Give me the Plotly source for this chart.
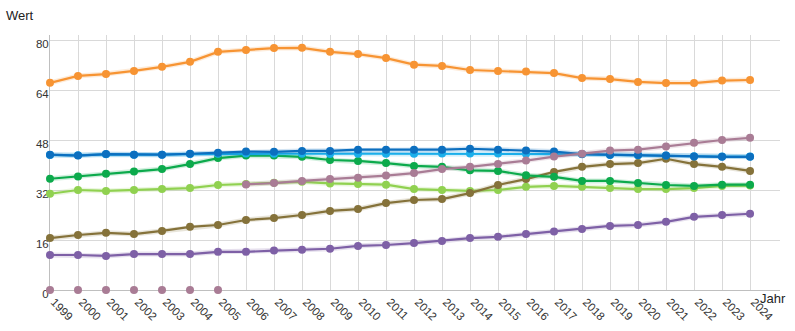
import plotly.graph_objects as go

years = list(range(1999, 2025))

orange = [66.3, 68.5, 69.1, 70.1, 71.4, 73.0, 76.2, 76.8, 77.4, 77.5, 76.2, 75.5, 74.2,
          72.1, 71.7, 70.4, 70.1, 69.9, 69.4, 67.8, 67.5, 66.6, 66.2, 66.2, 67.0, 67.2]
dark_blue = [43.3, 43.0, 43.5, 43.3, 43.3, 43.6, 43.9, 44.3, 44.2, 44.5, 44.5, 44.9, 44.9,
             44.9, 44.9, 45.2, 44.9, 44.6, 44.3, 43.5, 43.3, 43.2, 43.0, 42.7, 42.6, 42.6]
light_blue = [43.2, 43.1, 43.4, 43.3, 43.3, 43.5, 43.6, 43.7, 43.6, 43.6, 43.5, 43.6, 43.6,
              43.6, 43.7, 43.7, 43.7, 43.6, 43.5, 43.4, 43.2, 43.1, 43.0, 42.8, 42.7, 42.7]
dark_green = [35.6, 36.3, 37.2, 37.9, 38.7, 40.3, 42.2, 43.0, 43.0, 42.6, 41.6, 41.3, 40.6,
              39.7, 39.4, 38.3, 38.1, 36.7, 36.2, 34.9, 34.9, 34.2, 33.6, 33.3, 33.7, 33.7]
light_green = [30.8, 32.0, 31.7, 32.0, 32.3, 32.6, 33.6, 33.9, 34.3, 34.6, 34.1, 33.9, 33.7,
               32.3, 32.0, 31.7, 32.0, 33.0, 33.3, 33.0, 32.6, 32.3, 32.3, 32.6, 33.3, 33.4]
mauve = [0, 0, 0, 0, 0, 0, 0, 33.8, 34.2, 34.9, 35.5, 35.9, 36.6,
         37.4, 38.7, 39.4, 40.3, 41.4, 42.7, 43.6, 44.6, 44.9, 45.9, 47.1, 48.0, 48.7]
olive = [16.6, 17.6, 18.3, 17.9, 18.9, 20.2, 20.8, 22.4, 23.0, 24.0, 25.3, 25.9, 27.8,
         28.8, 29.1, 31.0, 33.6, 35.5, 37.8, 39.4, 40.3, 40.6, 42.0, 40.3, 39.4, 38.1]
purple = [11.2, 11.2, 10.9, 11.5, 11.5, 11.5, 12.2, 12.2, 12.6, 12.9, 13.2, 14.1, 14.4,
          15.0, 15.7, 16.6, 17.0, 17.9, 18.7, 19.5, 20.5, 20.8, 21.8, 23.4, 24.0, 24.4]

y_ticks = [0, 16, 32, 48, 64, 80]

series = [
    (light_green, "#90D150"),
    (olive, "#85723A"),
    (purple, "#7E60A6"),
    (dark_green, "#0CAA4C"),
    (light_blue, "#1AAEEA"),
    (dark_blue, "#0C6FBF"),
    (orange, "#F79433"),
]

fig = go.Figure()


def add_line(xs, ys, color):
    # soft halo under the line
    fig.add_trace(go.Scatter(x=xs, y=ys, mode="lines",
                             line=dict(color=color, width=5), opacity=0.18,
                             hoverinfo="skip", cliponaxis=False))
    fig.add_trace(go.Scatter(x=xs, y=ys, mode="lines+markers",
                             line=dict(color=color, width=2.2),
                             marker=dict(color=color, size=8),
                             cliponaxis=False))


for vals, col in series[:-1]:
    add_line(years, vals, col)

# mauve series: zero entries mark years without data, shown as markers only
mauve_col = "#A97C95"
m_x = [y for y, v in zip(years, mauve) if v > 0]
m_y = [v for v in mauve if v > 0]
z_x = [y for y, v in zip(years, mauve) if v == 0]
z_y = [v for v in mauve if v == 0]
add_line(m_x, m_y, mauve_col)
fig.add_trace(go.Scatter(x=z_x, y=z_y, mode="markers",
                         marker=dict(color=mauve_col, size=8), cliponaxis=False))

add_line(years, series[-1][0], series[-1][1])

fig.update_layout(
    width=795, height=331,
    margin=dict(l=50, r=15, t=35, b=41),
    paper_bgcolor="white", plot_bgcolor="white",
    showlegend=False,
    font=dict(family="Liberation Sans, Arial, sans-serif", size=11, color="#333333"),
    xaxis=dict(
        range=[1999, 2025.07],
        tickvals=years, ticktext=[str(y) for y in years],
        tickangle=45, showgrid=True, gridcolor="#d9d9d9", gridwidth=1,
        showline=True, linecolor="#bfbfbf", linewidth=1,
        zeroline=False, ticks="", layer="below traces",
        ticklabelshift=4, ticklabelstandoff=0, automargin=False,
        tickfont=dict(size=11.5),
    ),
    yaxis=dict(
        range=[0, 81.6],
        tickvals=y_ticks, ticktext=[str(v) for v in y_ticks],
        showgrid=True, gridcolor="#d9d9d9", gridwidth=1,
        showline=True, linecolor="#bfbfbf", linewidth=1,
        zeroline=False, ticks="", ticklabelshift=4, ticklabelstandoff=-2,
        layer="below traces", automargin=False, tickfont=dict(size=11.5),
    ),
    annotations=[
        dict(text="Wert", xref="paper", yref="paper", x=-0.063, y=1.078,
             xanchor="left", yanchor="middle", showarrow=False,
             font=dict(size=13, color="#222222")),
        dict(text="Jahr", xref="paper", yref="paper", x=0.97, y=-0.035,
             xanchor="left", yanchor="middle", showarrow=False,
             font=dict(size=13, color="#222222")),
    ],
)

fig.write_html("out.html")
